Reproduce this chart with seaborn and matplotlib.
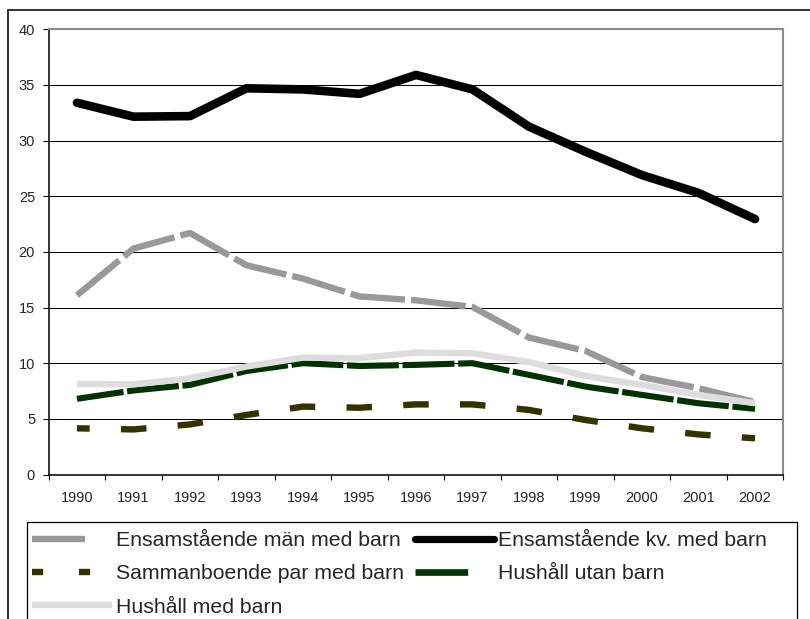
import matplotlib
matplotlib.use("Agg")
import matplotlib.pyplot as plt
import seaborn as sns
import numpy as np
import pandas as pd
from matplotlib.lines import Line2D
from matplotlib.patches import Rectangle

# ---- data ----
years = ['1990', '1991', '1992', '1993', '1994', '1995', '1996',
         '1997', '1998', '1999', '2000', '2001', '2002']
man_med_barn = [16.1, 20.3, 21.7, 18.8, 17.6, 16.0, 15.65, 15.05, 12.3, 11.1, 8.75, 7.75, 6.5]
kv_med_barn = [33.4, 32.15, 32.2, 34.7, 34.6, 34.2, 35.9, 34.6, 31.25, 29.0, 26.9, 25.3, 22.95]
sammanboende = [4.15, 4.05, 4.5, 5.35, 6.1, 6.0, 6.3, 6.3, 5.8, 4.9, 4.15, 3.6, 3.25]
utan_barn = [6.8, 7.55, 8.05, 9.3, 10.0, 9.75, 9.85, 10.0, 8.95, 7.9, 7.15, 6.4, 5.9]
hushall_med_barn = [8.13, 8.1, 8.64, 9.7, 10.5, 10.45, 10.95, 10.9, 10.1, 8.85, 8.05, 7.15, 6.4]

labels = ['Ensamstående män med barn', 'Ensamstående kv. med barn',
          'Sammanboende par med barn', 'Hushåll utan barn', 'Hushåll med barn']
yticks = [0, 5, 10, 15, 20, 25, 30, 35, 40]

sns.set_style("white")
plt.rcParams['font.family'] = ['Liberation Sans', 'DejaVu Sans']

W, H = 810, 619
fig = plt.figure(figsize=(W / 100, H / 100), dpi=100)

def fx(px):
    return px / W

def fy(py):
    return (H - py) / H

ax_l, ax_r, ax_t, ax_b = 48.7, 783.3, 29.3, 474.5
ax = fig.add_axes([fx(ax_l), fy(ax_b), fx(ax_r - ax_l), (ax_b - ax_t) / H])

df = pd.DataFrame({'pos': np.arange(len(years))})

series = [
    (man_med_barn, '#999999', 4.6, (0, (8.6, 0.95)), 'butt'),
    (kv_med_barn, '#000000', 6.2, '-', 'round'),
    (sammanboende, '#333300', 4.6, (2.0, (3.99, 4.90)), 'butt'),
    (utan_barn, '#003300', 4.4, (0.8, (8.5, 0.6)), 'butt'),
    (hushall_med_barn, '#dddddd', 4.6, '-', 'butt'),
]
for vals, col, lw, ls, cap in series:
    d = df.assign(v=vals)
    sns.lineplot(data=d, x='pos', y='v', ax=ax, color=col, lw=lw,
                 linestyle=ls, solid_capstyle=cap, dash_capstyle='butt',
                 solid_joinstyle='round' if cap == 'round' else 'miter',
                 legend=False)

ax.set_xlim(-0.5, len(years) - 0.5)
ax.set_ylim(0, 40)
ax.set_xlabel('')
ax.set_ylabel('')

# y axis
ax.set_yticks(yticks)
ax.set_yticklabels([str(t) for t in yticks])
ax.tick_params(axis='y', which='major', direction='out', length=4.3, width=0.8,
               color='black', pad=5.5, labelsize=10.5, left=True)
for t in yticks[1:-1]:
    ax.axhline(t, color='black', lw=0.75, zorder=0.5)

# x axis: ticks at category boundaries, labels at centers
ax.set_xticks(np.arange(-0.5, len(years)), minor=False)
ax.set_xticklabels([''] * (len(years) + 1), minor=False)
ax.set_xticks(np.arange(len(years)), minor=True)
ax.set_xticklabels(years, minor=True)
ax.tick_params(axis='x', which='major', direction='out', length=3.8, width=0.8,
               color='black', bottom=True)
ax.tick_params(axis='x', which='minor', length=0, pad=12, labelsize=10.5)

for s in ['left', 'bottom']:
    ax.spines[s].set_color('black')
    ax.spines[s].set_linewidth(1.1)
for s in ['top', 'right']:
    ax.spines[s].set_color('#8c8c8c')
    ax.spines[s].set_linewidth(1.5)
    ax.spines[s].set_visible(True)
ax.grid(False)

# outer figure frame (top and left visible)
fig.add_artist(Line2D([fx(8), 1.01], [fy(10), fy(10)], transform=fig.transFigure,
                      color='#333333', lw=1.4))
fig.add_artist(Line2D([fx(8), fx(8)], [fy(10), -0.01], transform=fig.transFigure,
                      color='#333333', lw=1.4))

# legend frame
fig.add_artist(Rectangle((fx(27), -0.05), fx(796.7 - 27), fy(521.7) + 0.05,
                         transform=fig.transFigure, fill=False,
                         edgecolor='black', lw=0.9))

# legend handles (column-major order: col1 = men, samman, med barn; col2 = kv, utan)
h_men = Line2D([], [], color='#999999', lw=4.6, linestyle=(0, (8.3, 20)), dash_capstyle='butt')
h_kv = Line2D([], [], color='#000000', lw=5.2, solid_capstyle='round')
h_sam = Line2D([], [], color='#333300', lw=4.6, linestyle=(0, (1.75, 5.6)), dash_capstyle='butt')
h_utan = Line2D([], [], color='#003300', lw=4.8, linestyle=(0, (7.9, 20)), dash_capstyle='butt')
h_med = Line2D([], [], color='#dddddd', lw=4.6, solid_capstyle='butt')

handles = [h_men, h_sam, h_med, h_kv, h_utan]
hlabels = [labels[0], labels[2], labels[4], labels[1], labels[3]]
fig.legend(handles, hlabels, loc='upper left', ncol=2,
           bbox_to_anchor=(fx(32), fy(531)), bbox_transform=fig.transFigure,
           frameon=False, borderpad=0, borderaxespad=0,
           fontsize=15.3, handlelength=3.75, handletextpad=0.2,
           columnspacing=0.5, labelspacing=0.68)

fig.savefig('out.png', dpi=100)
